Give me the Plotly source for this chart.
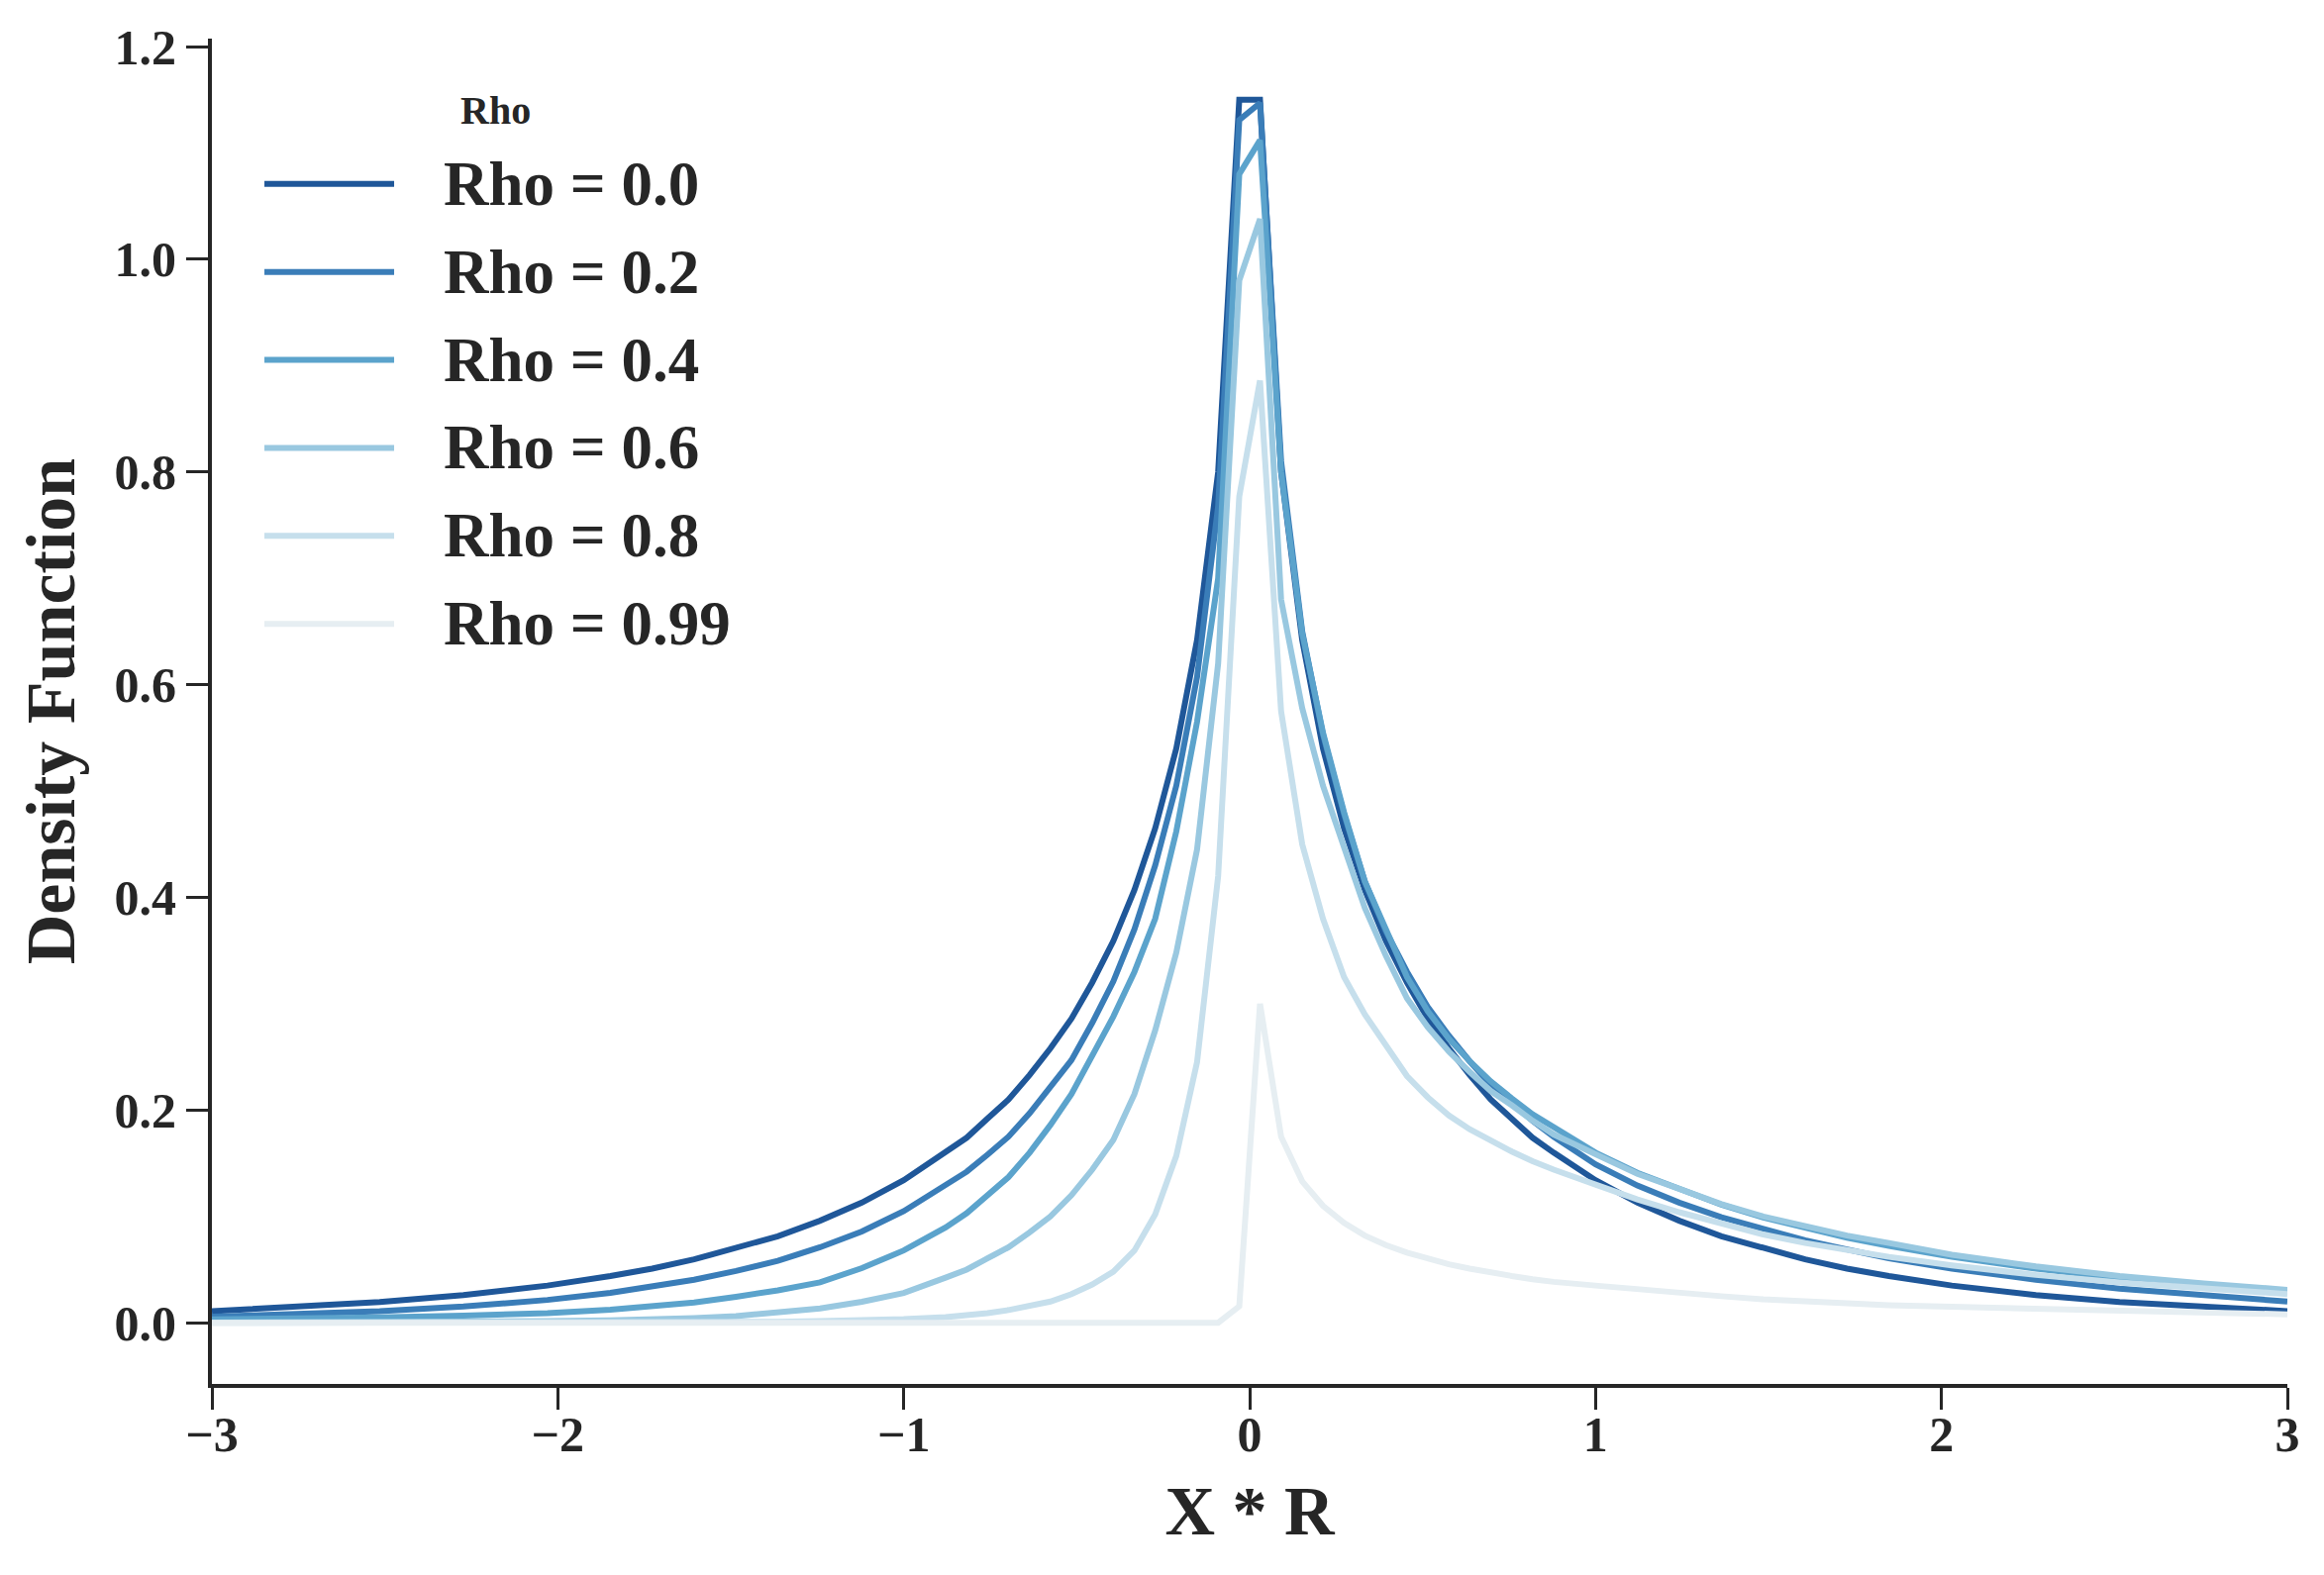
import plotly.graph_objects as go

# sample positions along X * R
x_vals = [-3.0, -2.758, -2.515, -2.273, -2.03, -1.848, -1.727, -1.606, -1.485, -1.364,
          -1.242, -1.121, -1.0, -0.879, -0.818, -0.758, -0.697, -0.636, -0.576, -0.515,
          -0.455, -0.394, -0.333, -0.273, -0.212, -0.152, -0.091, -0.030,
          0.030, 0.091, 0.152, 0.212, 0.273, 0.333, 0.394, 0.455, 0.515, 0.576,
          0.636, 0.697, 0.758, 0.818, 0.879, 1.0, 1.121, 1.242, 1.364, 1.485,
          1.606, 1.727, 1.848, 2.03, 2.273, 2.515, 2.758, 3.0]

rho_00 = [0.011, 0.0147, 0.0195, 0.0261, 0.035, 0.0439, 0.051, 0.0596, 0.070, 0.0814,
          0.096, 0.113, 0.134, 0.160, 0.174, 0.192, 0.210, 0.233, 0.258, 0.286,
          0.320, 0.359, 0.407, 0.465, 0.540, 0.642, 0.800, 1.150,
          1.150, 0.800, 0.642, 0.540, 0.465, 0.407, 0.359, 0.320, 0.286, 0.258,
          0.233, 0.210, 0.192, 0.174, 0.160, 0.134, 0.113, 0.096, 0.0814, 0.070,
          0.0596, 0.051, 0.0439, 0.035, 0.0261, 0.0195, 0.0147, 0.011]
rho_02 = [0.0058, 0.0078, 0.0109, 0.0153, 0.0215, 0.0281, 0.0337, 0.0405, 0.0487, 0.0582,
          0.071, 0.0859, 0.105, 0.129, 0.142, 0.158, 0.175, 0.197, 0.221, 0.247,
          0.282, 0.321, 0.370, 0.430, 0.505, 0.607, 0.768, 1.131,
          1.147, 0.810, 0.650, 0.553, 0.478, 0.415, 0.368, 0.330, 0.297, 0.270,
          0.246, 0.224, 0.207, 0.190, 0.175, 0.149, 0.129, 0.113, 0.0993, 0.088,
          0.0775, 0.069, 0.0606, 0.051, 0.0405, 0.032, 0.0254, 0.020]
rho_04 = [0.0033, 0.004, 0.005, 0.0068, 0.009, 0.0123, 0.015, 0.0191, 0.0245, 0.0305,
          0.038, 0.0514, 0.068, 0.0896, 0.103, 0.119, 0.137, 0.160, 0.186, 0.215,
          0.250, 0.288, 0.330, 0.380, 0.462, 0.565, 0.700, 1.080,
          1.112, 0.800, 0.648, 0.555, 0.480, 0.415, 0.370, 0.325, 0.293, 0.267,
          0.246, 0.227, 0.211, 0.196, 0.184, 0.160, 0.141, 0.126, 0.111, 0.099,
          0.0888, 0.080, 0.0724, 0.062, 0.0509, 0.042, 0.0345, 0.029]
rho_06 = [0.0002, 0.0003, 0.0005, 0.0009, 0.0015, 0.0022, 0.003, 0.0044, 0.0063, 0.0092,
          0.0134, 0.0198, 0.028, 0.0424, 0.050, 0.0605, 0.071, 0.085, 0.100, 0.120,
          0.144, 0.172, 0.215, 0.275, 0.348, 0.445, 0.620, 0.980,
          1.038, 0.680, 0.578, 0.505, 0.445, 0.390, 0.345, 0.305, 0.278, 0.255,
          0.236, 0.218, 0.2045, 0.190, 0.177, 0.158, 0.140, 0.126, 0.1115, 0.100,
          0.0906, 0.082, 0.075, 0.064, 0.053, 0.044, 0.037, 0.031]
rho_08 = [0.0, 0.0, 0.0, 0.0, 0.0001, 0.0002, 0.0003, 0.0005, 0.0007, 0.001,
          0.0015, 0.0023, 0.0035, 0.0054, 0.0068, 0.009, 0.012, 0.0156, 0.020, 0.027,
          0.036, 0.048, 0.068, 0.102, 0.157, 0.245, 0.420, 0.777,
          0.886, 0.575, 0.450, 0.380, 0.325, 0.290, 0.260, 0.232, 0.212, 0.195,
          0.182, 0.171, 0.161, 0.152, 0.144, 0.130, 0.116, 0.104, 0.093, 0.083,
          0.075, 0.068, 0.062, 0.054, 0.045, 0.038, 0.032, 0.027]
rho_099 = [0.0, 0.0, 0.0, 0.0, 0.0, 0.0, 0.0, 0.0, 0.0, 0.0,
           0.0, 0.0, 0.0, 0.0, 0.0, 0.0, 0.0, 0.0, 0.0, 0.0,
           0.0, 0.0, 0.0, 0.0, 0.0, 0.0, 0.0, 0.0155,
           0.300, 0.175, 0.133, 0.110, 0.094, 0.082, 0.073, 0.066, 0.060, 0.055,
           0.051, 0.047, 0.044, 0.041, 0.0385, 0.035, 0.0313, 0.028, 0.025, 0.022,
           0.020, 0.018, 0.0165, 0.015, 0.013, 0.011, 0.0095, 0.008]

series_names = ["Rho = 0.0", "Rho = 0.2", "Rho = 0.4", "Rho = 0.6", "Rho = 0.8", "Rho = 0.99"]
series_vals = [rho_00, rho_02, rho_04, rho_06, rho_08, rho_099]
colors = ["#1f5799", "#3a7db8", "#5ba3cc", "#99c8e0", "#c6dfec", "#e6eef2"]

x_ticks = [-3, -2, -1, 0, 1, 2, 3]
x_tick_labels = ["\u22123", "\u22122", "\u22121", "0", "1", "2", "3"]
y_ticks = [0.0, 0.2, 0.4, 0.6, 0.8, 1.0, 1.2]
y_tick_labels = ["0.0", "0.2", "0.4", "0.6", "0.8", "1.0", "1.2"]

FONT = "Liberation Serif, Times New Roman, serif"
INK = "#262626"

fig = go.Figure()
for name, vals, col in zip(series_names, series_vals, colors):
    fig.add_trace(go.Scatter(x=x_vals, y=vals, name=name, mode="lines",
                             line=dict(color=col, width=6), showlegend=False))

# hand-built legend (matplotlib style: long line samples, title on top)
leg_x0, leg_x1, leg_tx = 0.0253, 0.0878, 0.1107
row_top, row_step = 0.892, 0.0654
for i, (name, col) in enumerate(zip(series_names, colors)):
    yy = row_top - i * row_step
    fig.add_shape(type="line", xref="paper", yref="paper",
                  x0=leg_x0, x1=leg_x1, y0=yy, y1=yy,
                  line=dict(color=col, width=6))
    fig.add_annotation(x=leg_tx, y=yy, xref="paper", yref="paper",
                       text=name, showarrow=False, xanchor="left", yanchor="middle",
                       font=dict(family=FONT, size=63, color=INK, weight="bold"))
fig.add_annotation(x=0.1369, y=0.9464, xref="paper", yref="paper",
                   text="Rho", showarrow=False, xanchor="center", yanchor="middle",
                   font=dict(family=FONT, size=40, color=INK, weight="bold"))

axis_common = dict(showline=True, linecolor=INK, linewidth=4, mirror=False,
                   ticks="outside", ticklen=22, tickwidth=3, tickcolor=INK,
                   showgrid=False, zeroline=False,
                   tickfont=dict(family=FONT, size=50, color=INK, weight="bold"))

# page body keeps its default 8px margin, so the figure is 16px smaller than the window
fig.update_layout(
    width=2331, height=1575,
    margin=dict(l=206, r=29, t=29, b=185),
    plot_bgcolor="white", paper_bgcolor="white",
    xaxis=dict(range=[-3, 3], tickvals=x_ticks, ticktext=x_tick_labels,
               ticklabelstandoff=-18,
               title=dict(text="X * R", standoff=26,
                          font=dict(family=FONT, size=70, color=INK, weight="bold")),
               **axis_common),
    yaxis=dict(range=[-0.0575, 1.2075], tickvals=y_ticks, ticktext=y_tick_labels,
               title=dict(text="Density Function", standoff=18,
                          font=dict(family=FONT, size=70, color=INK, weight="bold")),
               **axis_common),
)

fig.write_html("out.html")
